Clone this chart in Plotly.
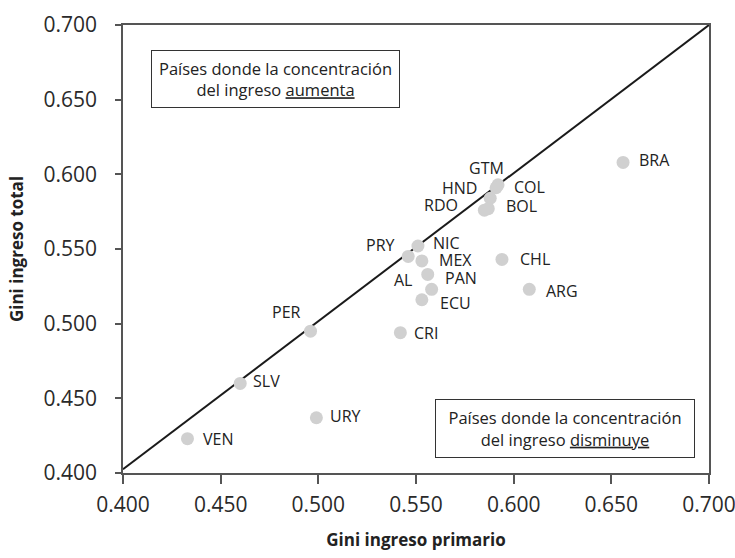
import plotly.graph_objects as go

# Gini coefficients
paises = ['BRA', 'GTM', 'COL', 'HND', 'RDO', 'BOL', 'NIC', 'PRY', 'MEX', 'AL',
          'PAN', 'ECU', 'CHL', 'ARG', 'CRI', 'PER', 'SLV', 'URY', 'VEN']
gini_primario = [0.656, 0.592, 0.591, 0.588, 0.585, 0.587, 0.551, 0.546, 0.553, 0.556,
                 0.558, 0.553, 0.594, 0.608, 0.542, 0.496, 0.460, 0.499, 0.433]
gini_total = [0.608, 0.593, 0.591, 0.584, 0.576, 0.577, 0.552, 0.545, 0.542, 0.533,
              0.523, 0.516, 0.543, 0.523, 0.494, 0.495, 0.460, 0.437, 0.423]

# reference line
linea_x = [0.400, 0.700]
linea_y = [0.4025, 0.700]

ticks = [0.400, 0.450, 0.500, 0.550, 0.600, 0.650, 0.700]

# label placement: (anchor, dx px, dy px up)
pos_etiqueta = {
    'BRA': ('left', 14, 2), 'GTM': ('center', -12, 17), 'COL': ('left', 16, 1),
    'HND': ('right', -11, 10), 'RDO': ('right', -24, 5), 'BOL': ('left', 16, 3),
    'NIC': ('left', 13, 3), 'PRY': ('right', -11, 11), 'MEX': ('left', 15, 1),
    'AL': ('right', -14, -6), 'PAN': ('left', 11, 11), 'ECU': ('left', 16, -3),
    'CHL': ('left', 16, 0), 'ARG': ('left', 15, -2), 'CRI': ('left', 12, 0),
    'PER': ('right', -8, 19), 'SLV': ('left', 11, 2), 'URY': ('left', 12, 2),
    'VEN': ('left', 14, 0),
}

FONT = 'Open Sans'

fig = go.Figure()
fig.add_trace(go.Scatter(x=linea_x, y=linea_y, mode='lines',
                         line=dict(color='#1a1a1a', width=2), hoverinfo='skip'))
fig.add_trace(go.Scatter(x=gini_primario, y=gini_total, mode='markers',
                         marker=dict(size=13, color='#d0d0d0'), text=paises))

anots = []
for p, gx, gy in zip(paises, gini_primario, gini_total):
    anc, dx, dy = pos_etiqueta[p]
    anots.append(dict(x=gx, y=gy, text=p, showarrow=False, xanchor=anc, yanchor='middle',
                      xshift=dx, yshift=dy, font=dict(family=FONT, size=16, color='#222')))

anots.append(dict(x=0.4781, y=0.6638, showarrow=False, width=245, height=54,
                  text='Países donde la concentración<br>del ingreso <u>aumenta</u>',
                  bordercolor='#333', borderwidth=1, borderpad=1, bgcolor='white',
                  font=dict(family=FONT, size=16.5, color='#222')))
anots.append(dict(x=0.6263, y=0.4297, showarrow=False, width=256, height=55,
                  text='Países donde la concentración<br>del ingreso <u>disminuye</u>',
                  bordercolor='#333', borderwidth=1, borderpad=1, bgcolor='white',
                  font=dict(family=FONT, size=16.5, color='#222')))

fig.update_layout(
    width=735, height=558,
    margin=dict(l=123, r=26, t=25, b=85),
    plot_bgcolor='white', paper_bgcolor='white',
    showlegend=False,
    annotations=anots,
    font=dict(family=FONT, color='#222'),
)
fig.update_xaxes(range=[0.400, 0.700], tickvals=ticks, tickformat='.3f',
                 showgrid=False, zeroline=False, automargin=False,
                 showline=True, linecolor='#555', linewidth=1.5, mirror=True,
                 ticks='outside', ticklen=9, tickcolor='#555', tickwidth=1.5,
                 ticklabelstandoff=3, ticklabeloverflow='allow',
                 tickfont=dict(family=FONT, size=21, color='#2a2a2a'),
                 title=dict(text='<b>Gini ingreso primario</b>', standoff=17,
                            font=dict(family=FONT, size=17, color='#222')))
fig.update_yaxes(range=[0.400, 0.700], tickvals=ticks, tickformat='.3f',
                 showgrid=False, zeroline=False, automargin=False,
                 showline=True, linecolor='#555', linewidth=1.5, mirror=True,
                 ticks='outside', ticklen=6, tickcolor='#555', tickwidth=1.5,
                 ticklabelstandoff=14, ticklabeloverflow='allow',
                 tickfont=dict(family=FONT, size=21, color='#2a2a2a'),
                 title=dict(text='<b>Gini ingreso total</b>', standoff=16,
                            font=dict(family=FONT, size=17, color='#222')))

# drop the default 8px page margin so the figure sits at the window's corner
fig.write_html('out.html', config={'displayModeBar': False},
               post_script="document.body.style.margin='0';")
